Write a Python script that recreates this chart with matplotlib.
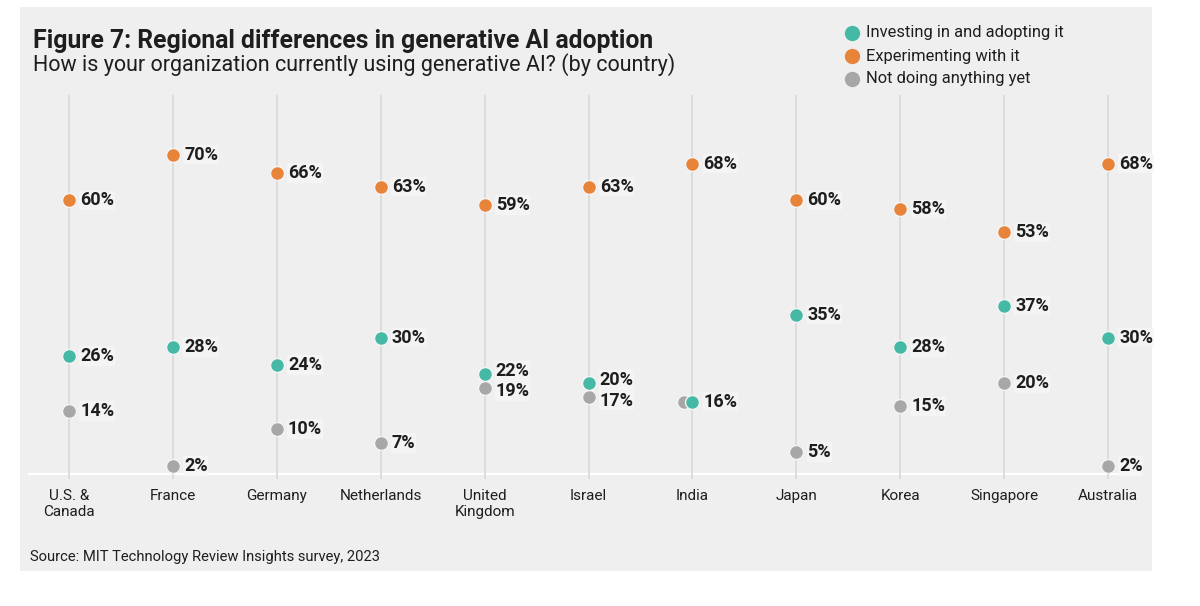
import matplotlib
matplotlib.use("Agg")
from matplotlib import pyplot as plt
from matplotlib.patches import Rectangle

plt.rcParams['font.family'] = ['Roboto', 'DejaVu Sans']

countries = ["U.S. &\nCanada", "France", "Germany", "Netherlands", "United\nKingdom",
             "Israel", "India", "Japan", "Korea", "Singapore", "Australia"]
investing = [26, 28, 24, 30, 22, 20, 16, 35, 28, 37, 30]
experimenting = [60, 70, 66, 63, 59, 63, 68, 60, 58, 53, 68]
not_doing = [14, 2, 10, 7, 19, 17, 16, 5, 15, 20, 2]

series_names = ["Investing in and adopting it", "Experimenting with it", "Not doing anything yet"]
TEAL = "#45b9a6"
ORANGE = "#e8833a"
GRAY = "#a7a7a7"
BG = "#efefef"
TXT = "#1e1e1e"

fig = plt.figure(figsize=(12, 6.06), dpi=100)
fig.patch.set_facecolor("white")

# grey panel behind everything
fig.patches.append(Rectangle((20 / 1200, 1 - 571 / 606), 1132 / 1200, 564 / 606,
                             transform=fig.transFigure, facecolor=BG, edgecolor="none", zorder=-5))

ax = fig.add_axes([28 / 1200, 131 / 606, 1112 / 1200, 380 / 606])
ax.set_zorder(2)
ax.set_facecolor("none")
ax.set_xlim(-0.395, 10.308)
ax.set_ylim(0, 83)
for s in ax.spines.values():
    s.set_visible(False)
ax.set_yticks([])

x = list(range(len(countries)))
ax.axhline(0, color="white", lw=3, zorder=1)
ax.vlines(x, -0.8, 83, color="#dcdcdc", lw=1.4, zorder=2, clip_on=False)

lab_box = dict(boxstyle="square,pad=0.04", facecolor="#f6f6f6", edgecolor="none", alpha=0.85)


def label(xi, v, dy=0):
    ax.annotate(f"{v}%", (xi, v), xytext=(8, dy), textcoords="offset points",
                ha="left", va="center", fontsize=13, fontweight="bold", color=TXT,
                bbox=lab_box, zorder=4, annotation_clip=False)


for i in x:
    gx = i
    if not_doing[i] == investing[i]:
        gx = i - 0.085
    ax.plot(gx, not_doing[i], "o", ms=10, color=GRAY, mec="#f4f4f4", mew=1, zorder=3, clip_on=False)
    ax.plot(i, experimenting[i], "o", ms=10, color=ORANGE, mec="#f4f4f4", mew=1, zorder=3, clip_on=False)
    ax.plot(i, investing[i], "o", ms=10, color=TEAL, mec="#f4f4f4", mew=1, zorder=3, clip_on=False)
    label(i, experimenting[i])
    # pull close labels apart a little
    gap = investing[i] - not_doing[i]
    nudge = 2.5 if 0 < gap < 5 else 0
    label(i, investing[i], nudge)
    if gap != 0:
        label(i, not_doing[i], -nudge)

ax.set_xticks(x)
ax.set_xticklabels(countries, fontsize=11, color=TXT, linespacing=1.15, va="top")
ax.tick_params(axis="x", length=0, pad=10)

fig.text(33 / 1200, 1 - 48 / 606, "Figure 7: Regional differences in generative AI adoption",
         fontsize=17.8, fontweight="bold", color=TXT, va="baseline")
fig.text(33 / 1200, 1 - 71 / 606, "How is your organization currently using generative AI? (by country)",
         fontsize=15.5, color=TXT, va="baseline")
fig.text(30 / 1200, 1 - 561 / 606, "Source: MIT Technology Review Insights survey, 2023",
         fontsize=10.6, color=TXT, va="baseline")

for k, (name, col) in enumerate(zip(series_names, [TEAL, ORANGE, GRAY])):
    yy = 1 - (33 + k * 23) / 606
    fig.lines.append(plt.Line2D([852 / 1200], [yy], marker="o", ms=10, color=col,
                                transform=fig.transFigure, ls="none"))
    fig.text(866 / 1200, yy, name, fontsize=11.9, color=TXT, va="center")

fig.savefig("out.png", dpi=100, facecolor="white")
